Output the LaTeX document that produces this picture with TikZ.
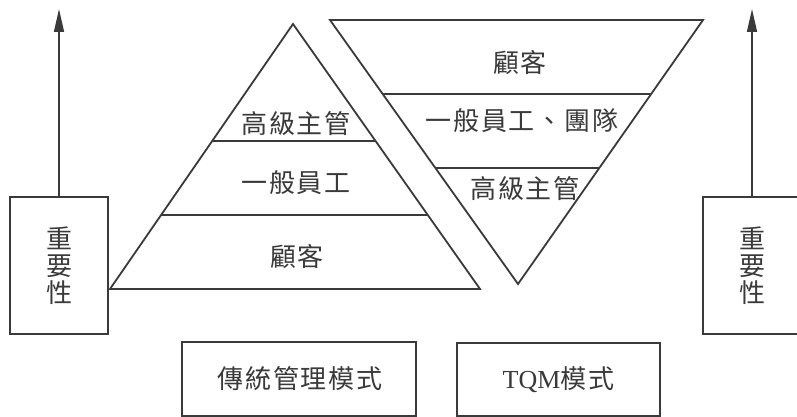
\documentclass[tikz,border=0pt]{standalone}
\usepackage{fontspec}
\newfontfamily\cjk[LetterSpace=7]{Noto Sans CJK TC}
\newfontfamily\lat{Liberation Serif}
\usetikzlibrary{arrows.meta}
\definecolor{ink}{HTML}{3A3A3A}
\tikzset{
  shp/.style={draw=ink, line width=1.8pt, line join=miter},
  lbl/.style={text=ink, font=\cjk\fontsize{26}{27}\selectfont, inner sep=0pt},
  boxnode/.style={draw=ink, line width=1.8pt, inner sep=0pt, text=ink,
                  font=\cjk\fontsize{26}{27}\selectfont},
  uparrow/.style={draw=ink, line width=1.6pt, -{Triangle[length=23pt,width=10pt]}}
}
\begin{document}
\begin{tikzpicture}[x=1pt,y=-1pt]
\useasboundingbox (0,0) rectangle (797,417);
\clip (0,0) rectangle (797,417);
\fill[white] (0,0) rectangle (797,417);
% left (traditional) pyramid
\draw[shp] (293,24) -- (480,289) -- (110,289) -- cycle;
\draw[shp] (212,141) -- (376,141);
\draw[shp] (161,215) -- (428,215);
\node[lbl] (l1) at (296,124) {高級主管};
\node[lbl] (l2) at (296,183) {一般員工};
\node[lbl] (l3) at (297,257) {顧客};
% right (TQM) inverted pyramid
\draw[shp] (330,20) -- (703,20) -- (518,284) -- cycle;
\draw[shp] (383,94) -- (651,94);
\draw[shp] (435,168) -- (599,168);
\node[lbl] (r1) at (520,63) {顧客};
\node[lbl] (r2) at (522,121) {一般員工、團隊};
\node[lbl] (r3) at (525,189) {高級主管};
% importance boxes and arrows
\node[boxnode, minimum width=98pt, minimum height=137pt, align=center] (lbox) at (59,265.5) {重\\要\\性};
\coordinate (ltop) at (59,9);
\draw[uparrow] (lbox.north) -- (ltop);
\node[boxnode, minimum width=98pt, minimum height=137pt, align=center] (rbox) at (752,265.5) {重\\要\\性};
\coordinate (rtop) at (752,9);
\draw[uparrow] (rbox.north) -- (rtop);
% mode boxes
\node[boxnode, minimum width=234pt, minimum height=74pt] (m1) at (299,379) {\hspace{2pt}傳統管理模式};
\node[boxnode, minimum width=203pt, minimum height=73pt] (m2) at (558.5,379.5) {{\lat TQM}模式};
\end{tikzpicture}
\end{document}
